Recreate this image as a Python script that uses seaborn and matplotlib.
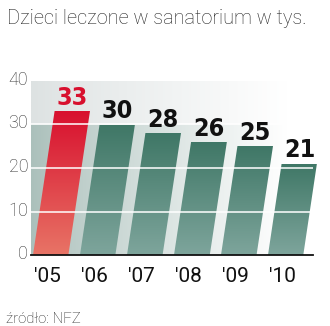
import numpy as np
import pandas as pd
import matplotlib
matplotlib.use("Agg")
import matplotlib.pyplot as plt
import seaborn as sns
from matplotlib.transforms import Affine2D, ScaledTranslation
from matplotlib.colors import LinearSegmentedColormap, to_rgb

years = ["'05", "'06", "'07", "'08", "'09", "'10"]
values = [33, 30, 28, 26, 25, 21]
yticks = [0, 10, 20, 30, 40]
title = "Dzieci leczone w sanatorium w tys."
source = "źródło: NFZ"

df = pd.DataFrame({"rok": years, "dzieci": values})

sns.set_theme(style="white")
plt.rcParams["font.family"] = ["Roboto", "DejaVu Sans"]

fig = plt.figure(figsize=(3.30, 3.26), dpi=100)
ax = fig.add_axes([31 / 330, 1 - 255 / 326, (313 - 31) / 330, (255 - 81) / 326])

sns.barplot(data=df, x="rok", y="dzieci", ax=ax, width=0.75,
            color="#4a7d6e", saturation=1, zorder=2)

ax.set_xlim(-0.42, 5.58)
ax.set_ylim(0, 40)

# background gradient
nx, ny = 200, 400
xs = np.linspace(0, 1, nx)
ys = np.linspace(0, 40, ny)
img = np.ones((ny, nx, 3))
low = np.array(to_rgb("#abc0bb"))
high = np.array(to_rgb("#dde2e2"))
white = np.ones(3)
for j, yv in enumerate(ys):
    base = low if yv < 30 else high
    fade = np.clip(xs * 1.1, 0, 1)[:, None] ** 0.9
    img[j] = base * (1 - fade) + white * fade
ax.imshow(img, extent=(-0.42, 5.58, 0, 40), origin="lower", aspect="auto", zorder=0)

# skewed transform (slanted bars)
fig.canvas.draw()
y0 = ax.transData.transform((0, 0))[1]
skew = Affine2D().translate(0, -y0).skew(np.arctan(0.15), 0).translate(0, y0)
strans = ax.transData + skew

red_cmap = LinearSegmentedColormap.from_list("r", ["#e87466", "#d8102e"])
green_cmap = LinearSegmentedColormap.from_list("g", ["#7ea59c", "#3f7766"])
grad = np.linspace(0, 1, 256)[:, None]
for i, p in enumerate(ax.patches):
    p.set_transform(strans)
    p.set_facecolor("none")
    p.set_edgecolor("none")
    x, w, h = p.get_x(), p.get_width(), p.get_height()
    cmap = red_cmap if i == 0 else green_cmap
    im = ax.imshow(grad, cmap=cmap, extent=(x, x + w, 0, h), origin="lower",
                   aspect="auto", zorder=2, transform=strans)
    im.set_clip_path(p)
    col = "#d8102e" if i == 0 else "#111111"
    ax.annotate(str(values[i]), xy=(i, h), xycoords=strans, xytext=(0, 1),
                textcoords="offset points", ha="center", va="bottom",
                fontsize=18, fontweight="bold", color=col, fontstretch="condensed",
                family=["DejaVu Sans"], zorder=5)

ax.set_xlim(-0.42, 5.58)
ax.set_ylim(0, 40)

for t in [10, 20, 30]:
    ax.axhline(t, color="white", lw=1.3, alpha=0.85, zorder=3)

ax.set_yticks(yticks)
ax.set_yticklabels([str(t) for t in yticks], fontsize=13, color="#333333", fontweight="light")
ax.set_xticks(range(len(years)))
ax.set_xticklabels(years, fontsize=15, color="#111111")
ax.tick_params(axis="both", length=0, pad=2)
ax.tick_params(axis="x", pad=9)
ax.set_xlabel("")
ax.set_ylabel("")
for s in ["top", "right", "left"]:
    ax.spines[s].set_visible(False)
ax.spines["bottom"].set_color("#111111")
ax.spines["bottom"].set_linewidth(1.3)
ax.spines["bottom"].set_zorder(6)

up = ScaledTranslation(0, 0.03, fig.dpi_scale_trans)
for lbl in ax.get_yticklabels():
    lbl.set_transform(lbl.get_transform() + up)
left = ScaledTranslation(-0.03, 0, fig.dpi_scale_trans)
for lbl in ax.get_xticklabels():
    lbl.set_transform(lbl.get_transform() + left)

fig.text(7 / 330, 1 - 24 / 326, title, fontsize=14.4, fontweight="light",
         color="#222222", ha="left", va="baseline")
fig.text(6 / 330, 1 - 323 / 326, source, fontsize=10.8, fontweight="light",
         color="#222222", ha="left", va="baseline")

fig.savefig("out.png", dpi=100)
